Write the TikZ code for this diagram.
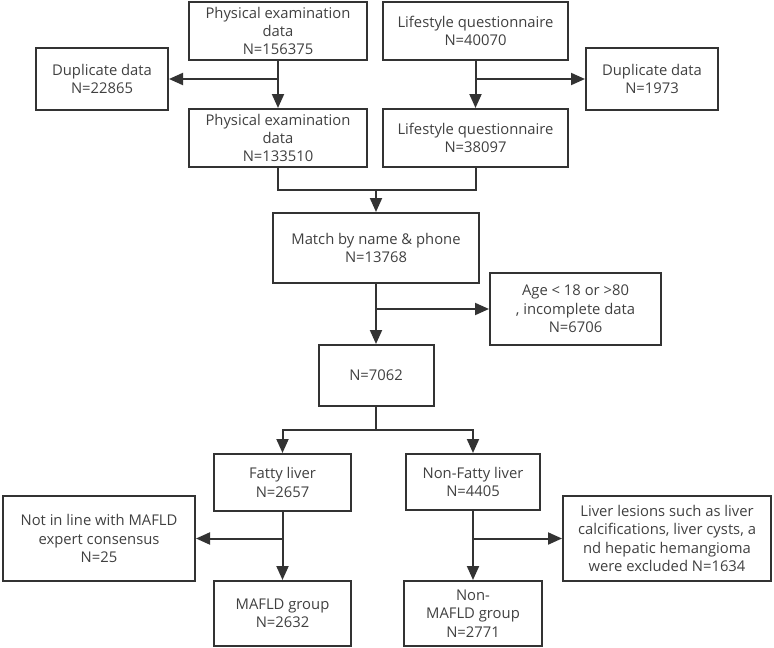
\documentclass[tikz,border=0pt]{standalone}
\usepackage{fontspec}
\setmainfont{Open Sans}
\usetikzlibrary{arrows.meta}

\definecolor{linegray}{HTML}{333333}
\definecolor{textgray}{HTML}{404040}

\tikzset{
  box/.style={draw=linegray, line width=2pt, align=center, inner sep=2pt,
    font=\fontsize{14.8}{18.3}\selectfont, text=textgray},
  flow/.style={draw=linegray, line width=2pt},
  arr/.style={flow, -{Triangle[length=14pt, width=12pt]}}
}

\begin{document}
\begin{tikzpicture}[x=1pt, y=-1pt]
    % Fix the page size
    \useasboundingbox (0,0) rectangle (774,648);

    % Draw source boxes
    \node[box, minimum width=178pt, minimum height=58pt] at (278, 31) (pe1) {Physical examination\\data\\N=156375};
    \node[box, minimum width=185pt, minimum height=58pt] at (475.5, 31) (lq1) {Lifestyle questionnaire\\N=40070};

    % Draw duplicate boxes
    \node[box, minimum width=132pt, minimum height=62pt] at (102, 79) (dupl) {Duplicate data\\N=22865};
    \node[box, minimum width=132pt, minimum height=62pt] at (652, 79) (dupr) {Duplicate data\\N=1973};

    % Draw cleaned boxes
    \node[box, minimum width=178pt, minimum height=58pt] at (278, 138) (pe2) {Physical examination\\data\\N=133510};
    \node[box, minimum width=185pt, minimum height=58pt] at (475.5, 138) (lq2) {Lifestyle questionnaire\\N=38097};

    % Draw match box and exclusion
    \node[box, minimum width=206pt, minimum height=70pt] at (376, 248) (match) {Match by name \& phone\\N=13768};
    \node[box, minimum width=171pt, minimum height=72pt] at (575.5, 309) (age) {Age < 18 or >80\\, incomplete data\\N=6706};
    \node[box, minimum width=115pt, minimum height=61pt] at (376, 375.5) (total) {N=7062};

    % Draw liver boxes
    \node[box, minimum width=137pt, minimum height=57pt] at (282.5, 482.5) (fatty) {Fatty liver\\N=2657};
    \node[box, minimum width=134pt, minimum height=56pt] at (473, 482) (nonfatty) {Non-Fatty liver\\N=4405};
    \node[box, minimum width=192pt, minimum height=85pt] at (99, 538.5) (notin) {Not in line with MAFLD\\expert consensus\\N=25};
    \node[box, minimum width=208pt, minimum height=85pt] at (667, 538.5) (lesion) {Liver lesions such as liver\\calcifications, liver cysts, a\\nd hepatic hemangioma\\were excluded N=1634};
    \node[box, minimum width=137pt, minimum height=65pt] at (282.5, 613.5) (mafld) {MAFLD group\\N=2632};
    \node[box, minimum width=138pt, minimum height=65pt] at (473, 613.5) (nonmafld) {Non-\\MAFLD group\\N=2771};

    % Draw duplicate removal arrows
    \draw[arr] (pe1.south) -- (pe2.north);
    \draw[arr] (pe1.south |- dupl.east) -- (dupl.east);
    \draw[arr] (lq1.south) -- (lq2.north);
    \draw[arr] (lq1.south |- dupr.west) -- (dupr.west);

    % Merge the two sources
    \coordinate (merge) at (376, 190);
    \draw[flow] (pe2.south) |- (merge) -| (lq2.south);
    \draw[arr] (merge) -- (match.north);

    % Draw age exclusion
    \draw[arr] (match.south) -- (total.north);
    \draw[arr] (match.south |- age.west) -- (age.west);

    % Split into two groups
    \coordinate (split) at (376, 430);
    \draw[flow] (total.south) -- (split);
    \draw[arr] (split) -| (fatty.north);
    \draw[arr] (split) -| (nonfatty.north);

    % Draw final exclusions
    \draw[arr] (fatty.south) -- (mafld.north);
    \draw[arr] (fatty.south |- notin.east) -- (notin.east);
    \draw[arr] (nonfatty.south) -- (nonmafld.north);
    \draw[arr] (nonfatty.south |- lesion.west) -- (lesion.west);
\end{tikzpicture}
\end{document}
